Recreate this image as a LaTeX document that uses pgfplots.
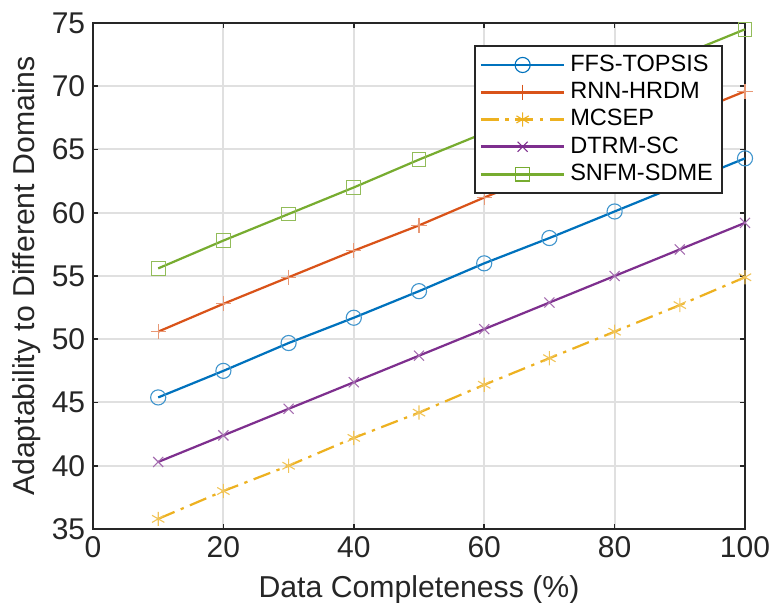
\documentclass[border=0pt]{standalone}
\usepackage{fontspec}
\setmainfont{Liberation Sans}
\usepackage{pgfplots}
\pgfplotsset{compat=1.18}

\definecolor{mblue}{rgb}{0,0.447,0.741}
\definecolor{morange}{rgb}{0.85,0.325,0.098}
\definecolor{myellow}{rgb}{0.929,0.694,0.125}
\definecolor{mpurple}{rgb}{0.494,0.184,0.556}
\definecolor{mgreen}{rgb}{0.466,0.674,0.188}

\begin{document}
\begin{tikzpicture}
\begin{axis}[
    scale only axis,
    width=293.4pt,
    height=227.7pt,
    xmin=0, xmax=100,
    ymin=35, ymax=75,
    xtick={0,20,...,100},
    ytick={35,40,...,75},
    tick align=inside,
    major tick length=2.4pt,
    tick style={draw=black!85, line width=0.8pt},
    axis line style={draw=black!85, line width=1pt},
    grid=major,
    major grid style={draw=black!12, line width=0.9pt},
    /pgf/number format/assume math mode=true,
    ticklabel style={font=\fontsize{13.5}{16}\selectfont, text=black!85},
    label style={font=\fontsize{13.6}{16}\selectfont, text=black!85},
    xlabel={Data Completeness (\%)},
    ylabel={Adaptability to Different Domains},
    xlabel style={yshift=-1pt},
    ylabel style={yshift=-2pt},
    legend style={
        at={([xshift=-10pt,yshift=-10pt]rel axis cs:1,1)},
        anchor=north east,
        font=\fontsize{10.6}{12}\selectfont,
        draw=black!85, line width=0.9pt,
        row sep=-0.6pt,
        inner sep=2pt,
        cells={anchor=west},
    },
    legend image code/.code={
        \draw[line width=1.3pt, mark repeat=2, mark phase=2,
              mark options={line width=0.5pt}]
        plot coordinates {(0cm,0cm) (0.66cm,0cm) (1.32cm,0cm)};
    },
    every axis plot/.append style={line width=1pt},
    clip=false,
]
\addplot[color=mblue, mark=o, mark size=3.4pt, mark options={solid, line width=0.5pt, draw=mblue!75}]
coordinates {
    (10,45.4) (20,47.5) (30,49.7) (40,51.7) (50,53.8)
    (60,56.0) (70,58.0) (80,60.1) (90,62.2) (100,64.3)
};
\addlegendentry{FFS-TOPSIS}

\addplot[color=morange, mark=+, mark size=3.4pt, mark options={solid, line width=0.5pt, draw=morange!60}]
coordinates {
    (10,50.6) (20,52.8) (30,54.9) (40,57.0) (50,59.0)
    (60,61.2) (70,63.3) (80,65.4) (90,67.5) (100,69.6)
};
\addlegendentry{RNN-HRDM}

\addplot[color=myellow, dash pattern=on 8pt off 3pt on 1.5pt off 3pt, mark=asterisk, mark size=3.2pt, mark options={solid, line width=0.5pt, draw=myellow!75}]
coordinates {
    (10,35.8) (20,38.0) (30,40.0) (40,42.2) (50,44.2)
    (60,46.4) (70,48.5) (80,50.6) (90,52.7) (100,54.9)
};
\addlegendentry{MCSEP}

\addplot[color=mpurple, mark=x, mark size=3.2pt, mark options={solid, line width=0.5pt, draw=mpurple!70}]
coordinates {
    (10,40.3) (20,42.4) (30,44.5) (40,46.6) (50,48.7)
    (60,50.8) (70,52.9) (80,55.0) (90,57.1) (100,59.2)
};
\addlegendentry{DTRM-SC}

\addplot[color=mgreen, mark=square, mark size=3.1pt, mark options={solid, line width=0.5pt, draw=mgreen!80}]
coordinates {
    (10,55.6) (20,57.8) (30,59.9) (40,62.0) (50,64.2)
    (60,66.3) (70,68.3) (80,70.4) (90,72.4) (100,74.5)
};
\addlegendentry{SNFM-SDME}
\end{axis}
\pgfresetboundingbox
\useasboundingbox ([xshift=-41.85pt,yshift=-33.3pt]current axis.south west)
    rectangle ([xshift=12.15pt,yshift=10.35pt]current axis.north east);
\end{tikzpicture}
\end{document}
